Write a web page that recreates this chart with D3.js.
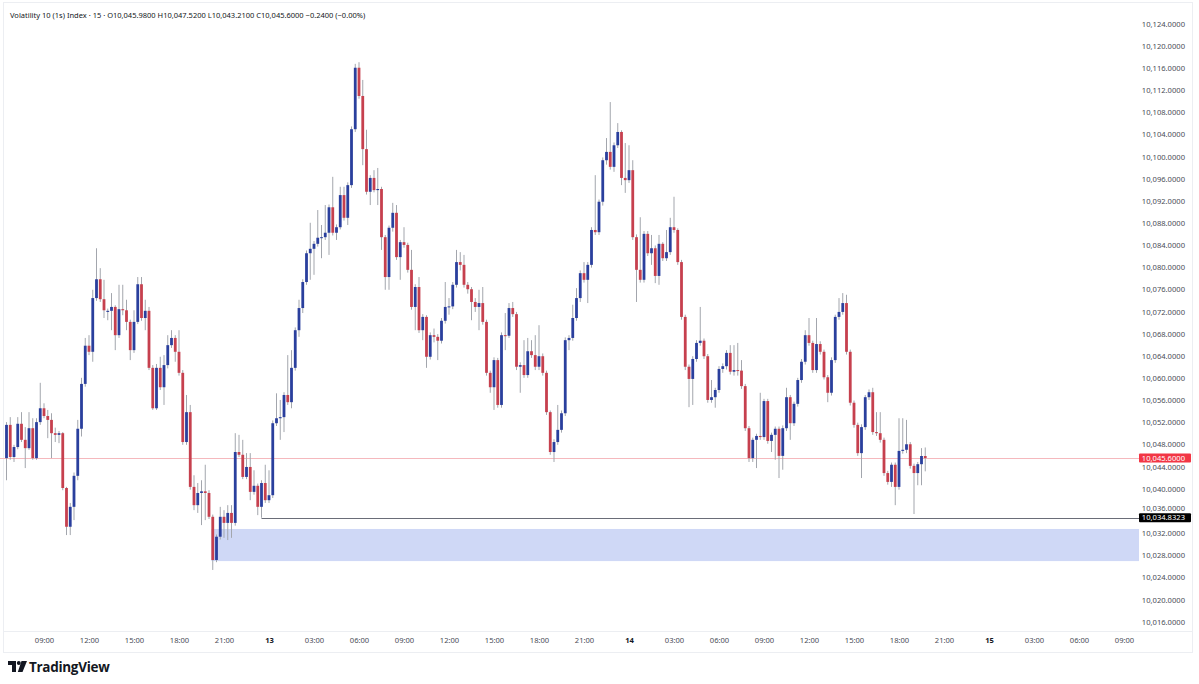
<!DOCTYPE html>
<html><head><meta charset="utf-8">
<script src="https://cdn.jsdelivr.net/npm/d3@7/dist/d3.min.js"></script>
<style>
html,body{margin:0;padding:0;background:#fff;}
svg{display:block;font-family:"Noto Sans","Liberation Sans",sans-serif;}
</style></head>
<body>
<svg id="chart" width="1199" height="684"></svg>
<script>
// ---- DATA (15-minute candles, starting 12th 06:30) ----
const opens = [10045.6,10051.6,10045.8,10047.6,10051.8,10048.9,10047.4,10051.0,10045.6,10052.1,
10054.6,10053.2,10052.5,10050.1,10049.8,10050.1,10040.2,10033.2,10036.8,10042.4,
10050.9,10059.0,10065.9,10064.8,10074.5,10077.9,10074.3,10072.0,10072.2,10072.9,
10067.8,10072.5,10072.3,10070.2,10065.1,10070.2,10077.0,10070.9,10072.2,10061.9,
10054.6,10061.9,10058.4,10062.4,10066.0,10067.3,10064.8,10061.0,10048.5,10053.9,
10040.4,10037.1,10039.3,10039.6,10039.3,10035.0,10027.2,10031.4,10035.0,10033.9,
10035.7,10033.9,10046.7,10046.2,10042.2,10044.0,10039.5,10040.6,10036.8,10041.1,
10038.0,10038.9,10051.9,10052.8,10053.0,10057.0,10055.7,10061.9,10068.7,10072.7,
10077.4,10082.6,10083.4,10084.3,10085.4,10085.5,10086.3,10090.9,10086.3,10087.3,
10093.1,10089.0,10094.9,10105.0,10116.1,10111.0,10101.4,10093.7,10096.2,10094.0,
10094.2,10085.5,10078.3,10087.2,10089.9,10081.9,10084.6,10084.1,10079.6,10072.9,
10076.5,10068.7,10071.1,10063.9,10067.8,10067.5,10066.8,10070.4,10072.9,10073.0,
10076.9,10081.0,10080.5,10076.9,10076.1,10073.8,10072.9,10073.6,10070.2,10061.0,
10058.4,10063.3,10055.2,10067.8,10067.7,10072.7,10071.6,10062.1,10062.4,10060.6,
10064.9,10064.2,10062.1,10064.0,10061.0,10053.9,10046.7,10048.5,10050.7,10053.7,
10066.9,10067.3,10070.9,10074.5,10079.0,10077.8,10080.5,10086.8,10086.4,10091.9,
10099.4,10100.9,10098.2,10102.1,10104.5,10096.2,10095.8,10097.6,10085.5,10079.6,
10077.8,10086.1,10082.6,10083.5,10078.5,10084.3,10081.7,10082.8,10087.3,10086.8,
10081.0,10071.1,10062.1,10059.9,10063.5,10066.4,10066.8,10064.0,10056.1,10056.6,
10057.9,10061.7,10062.2,10064.6,10061.2,10061.5,10061.4,10058.6,10051.0,10045.6,
10048.9,10049.6,10049.4,10055.9,10048.7,10049.8,10050.9,10046.0,10051.0,10056.6,
10051.9,10055.4,10059.7,10063.0,10067.8,10066.4,10061.5,10066.2,10064.8,10060.2,
10057.4,10063.3,10071.1,10072.0,10073.6,10064.8,10055.6,10051.6,10046.5,10051.2,
10056.6,10057.5,10050.3,10050.1,10048.9,10042.9,10041.3,10044.4,10040.4,10046.9,
10047.1,10048.1,10044.2,10042.9,10044.5,10045.98];
const highs = [10052.1,10053.0,10048.0,10053.0,10053.9,10051.2,10053.9,10052.8,10052.8,10059.2,
10055.5,10054.3,10053.7,10051.1,10050.5,10050.3,10040.4,10037.5,10043.0,10052.5,
10060.1,10067.3,10067.8,10076.0,10083.5,10079.9,10077.8,10072.6,10075.4,10073.2,
10076.9,10076.9,10074.2,10070.6,10072.3,10078.3,10078.3,10074.2,10072.9,10062.4,
10062.6,10063.9,10064.2,10067.8,10068.7,10067.8,10068.7,10061.5,10057.0,10055.2,
10042.5,10041.1,10041.6,10044.4,10039.8,10035.4,10031.8,10036.8,10036.2,10037.1,
10037.1,10050.1,10049.8,10048.9,10046.5,10046.5,10043.4,10041.0,10041.6,10044.4,
10043.4,10052.4,10057.3,10056.1,10057.5,10064.2,10065.1,10069.2,10074.2,10077.9,
10083.1,10088.1,10084.8,10090.4,10087.7,10091.3,10091.4,10096.4,10087.8,10094.6,
10094.6,10095.4,10105.5,10116.8,10117.1,10113.9,10104.9,10096.7,10097.6,10098.0,
10094.6,10085.9,10087.6,10091.7,10091.3,10085.0,10087.3,10084.5,10083.2,10077.0,
10078.3,10071.6,10071.4,10068.3,10069.0,10068.0,10070.9,10077.4,10074.5,10077.4,
10083.2,10082.8,10082.3,10077.4,10076.5,10074.5,10076.0,10076.5,10070.6,10061.4,
10063.8,10063.7,10068.3,10071.8,10073.6,10073.8,10072.0,10062.9,10066.9,10067.3,
10066.9,10067.8,10069.6,10064.5,10061.4,10054.2,10049.0,10055.2,10054.2,10067.4,
10067.8,10073.3,10076.3,10079.5,10081.0,10081.0,10087.3,10096.7,10092.3,10099.9,
10103.4,10109.9,10102.6,10106.1,10104.8,10102.5,10102.1,10099.4,10086.0,10089.1,
10086.6,10086.6,10085.9,10084.0,10085.9,10084.6,10086.8,10089.0,10092.8,10087.1,
10081.4,10071.5,10062.5,10064.0,10066.9,10072.9,10067.2,10064.4,10059.7,10058.3,
10062.2,10062.7,10065.1,10066.0,10066.0,10066.4,10063.3,10059.0,10051.4,10049.3,
10050.0,10057.4,10056.3,10056.3,10050.2,10051.3,10051.3,10051.5,10058.3,10057.0,
10055.8,10060.1,10063.5,10068.7,10070.9,10066.8,10070.9,10066.7,10065.2,10060.6,
10063.8,10071.5,10074.5,10075.4,10075.1,10065.2,10056.0,10052.0,10051.7,10057.0,
10058.0,10058.3,10053.9,10053.9,10049.3,10043.3,10044.8,10044.8,10052.8,10052.8,
10052.5,10048.5,10044.6,10044.9,10047.4,10047.52];
const lows = [10041.6,10045.3,10044.9,10047.2,10048.5,10043.8,10047.1,10045.3,10045.3,10051.6,
10052.8,10049.2,10045.6,10048.5,10048.3,10039.8,10031.7,10031.7,10034.4,10041.6,
10049.5,10058.5,10064.2,10063.0,10074.0,10073.8,10070.9,10070.5,10068.7,10065.1,
10067.3,10071.4,10068.7,10063.3,10064.6,10069.8,10070.4,10068.7,10061.5,10054.3,
10054.3,10057.9,10055.2,10061.8,10065.5,10063.0,10060.5,10048.0,10048.0,10039.9,
10036.2,10035.7,10033.5,10034.4,10034.6,10025.4,10026.8,10030.9,10031.2,10030.8,
10031.2,10033.4,10045.8,10041.8,10041.8,10038.0,10039.0,10035.3,10034.8323,10037.5,
10037.5,10038.4,10051.4,10048.9,10050.3,10055.2,10054.6,10061.4,10067.5,10071.8,
10076.9,10077.8,10078.7,10083.8,10081.7,10085.0,10082.3,10085.8,10085.0,10086.9,
10088.5,10087.7,10094.4,10104.5,10110.5,10098.5,10093.2,10091.3,10093.6,10091.3,
10083.2,10076.0,10076.0,10086.5,10081.4,10077.8,10083.6,10079.1,10072.4,10068.7,
10068.2,10066.9,10061.9,10063.4,10066.5,10063.3,10066.3,10069.9,10071.5,10072.5,
10076.4,10079.5,10076.4,10075.3,10070.5,10072.0,10068.7,10069.7,10060.5,10057.4,
10054.3,10054.7,10054.7,10065.1,10067.3,10071.1,10061.5,10057.4,10060.1,10060.1,
10063.7,10061.5,10061.5,10060.5,10053.4,10046.2,10044.9,10048.0,10050.2,10053.2,
10065.1,10066.8,10070.4,10073.8,10077.3,10073.6,10080.0,10085.9,10085.9,10091.2,
10098.6,10097.7,10097.3,10101.6,10094.9,10093.5,10095.3,10085.0,10073.8,10077.3,
10077.3,10082.1,10080.5,10077.2,10076.9,10081.2,10081.2,10082.3,10086.3,10080.5,
10070.6,10061.5,10054.8,10055.2,10063.0,10065.9,10063.5,10055.6,10055.6,10054.7,
10057.4,10061.0,10061.6,10060.7,10060.5,10060.5,10058.1,10050.5,10044.9,10044.9,
10043.8,10048.9,10048.9,10048.2,10046.7,10045.3,10042.0,10043.5,10050.5,10048.9,
10051.4,10054.9,10059.2,10062.5,10065.9,10061.0,10061.0,10064.3,10059.8,10055.7,
10056.9,10062.8,10070.6,10071.5,10064.3,10055.1,10051.1,10046.0,10042.0,10050.7,
10056.1,10049.8,10049.6,10048.4,10042.4,10040.8,10040.4,10037.1,10039.9,10046.4,
10046.5,10043.7,10035.5,10040.7,10040.7,10043.21];
const closes = [10051.6,10045.8,10047.6,10051.8,10048.9,10047.4,10051.0,10045.6,10052.1,10054.6,
10053.2,10052.5,10050.1,10049.8,10050.1,10040.2,10033.2,10036.8,10042.4,10050.9,
10059.0,10065.9,10064.8,10074.5,10077.9,10074.3,10072.3,10072.2,10072.9,10067.8,
10072.5,10072.3,10070.2,10065.1,10070.2,10077.0,10070.9,10072.2,10061.9,10054.6,
10061.9,10058.4,10062.4,10066.0,10067.3,10064.8,10061.0,10048.5,10053.9,10040.4,
10037.1,10039.3,10039.6,10039.3,10035.0,10027.2,10031.4,10035.0,10033.9,10035.7,
10033.9,10046.7,10046.2,10042.2,10044.0,10039.5,10040.6,10036.8,10041.1,10038.0,
10038.9,10051.9,10052.8,10053.0,10057.0,10055.7,10061.9,10068.7,10072.7,10077.4,
10082.6,10083.4,10084.3,10085.4,10085.5,10086.3,10090.9,10086.3,10087.3,10093.1,
10089.0,10094.9,10105.0,10116.1,10111.0,10101.4,10093.7,10096.2,10094.0,10094.2,
10085.5,10078.3,10087.2,10089.9,10081.9,10084.6,10084.1,10079.6,10072.9,10076.5,
10068.7,10071.1,10063.9,10067.8,10067.5,10066.8,10070.4,10072.9,10073.0,10076.9,
10081.0,10080.5,10076.9,10076.1,10073.8,10072.9,10073.6,10070.2,10061.0,10058.4,
10063.3,10055.2,10067.8,10067.7,10072.7,10071.6,10062.1,10062.4,10060.6,10064.9,
10064.2,10062.1,10064.0,10061.0,10053.9,10046.7,10048.5,10050.7,10053.7,10066.9,
10067.3,10070.9,10074.5,10079.0,10077.8,10080.5,10086.8,10086.4,10091.9,10099.4,
10100.9,10098.2,10102.1,10104.5,10096.2,10095.8,10097.6,10085.5,10079.6,10077.8,
10086.1,10082.6,10083.5,10078.5,10084.3,10081.7,10082.8,10087.3,10086.8,10081.0,
10071.1,10062.1,10059.9,10063.5,10066.4,10066.8,10064.0,10056.1,10056.6,10057.9,
10061.7,10062.2,10064.6,10061.2,10061.5,10061.4,10058.6,10051.0,10045.6,10048.9,
10049.6,10049.4,10055.9,10048.7,10049.8,10050.9,10046.0,10051.0,10056.6,10051.9,
10055.4,10059.7,10063.0,10067.8,10066.4,10061.5,10066.2,10064.8,10060.2,10057.4,
10063.3,10071.1,10072.0,10073.6,10064.8,10055.6,10051.6,10046.5,10051.2,10056.6,
10057.5,10050.3,10050.1,10048.9,10042.9,10041.3,10044.4,10040.4,10046.9,10047.1,
10048.1,10044.2,10042.9,10044.5,10045.98,10045.60];

const priceTicks = d3.range(10016, 10125, 4);
const lastPrice = 10045.60;
const lineLevel = 10034.8323;
const zoneTop = 10032.8, zoneBottom = 10027.0;
const lineStartIndex = 68, zoneStartIndex = 55;
const header = {symbol:"Volatility 10 (1s) Index · 15 · ", o:"10,045.9800", h:"10,047.5200", l:"10,043.2100", c:"10,045.6000", chg:"−0.2400 (−0.00%)"};

// categories: candle open times
const start = new Date(2025, 2, 12, 6, 30);
const times = opens.map((_, i) => new Date(start.getTime() + i * 15 * 60000));
const candles = times.map((t, i) => ({t, o: opens[i], h: highs[i], l: lows[i], c: closes[i]}));

// ---- LAYOUT ----
const svg = d3.select("#chart");
const W = 1199, H = 684, plotRight = 1139, plotBottom = 631;
const x = d3.scaleTime()
  .domain([new Date(2025, 2, 12, 6, 0), new Date(2025, 2, 15, 12, 0)])
  .range([-1, -1 + 78 * 15]);
const y = d3.scaleLinear().domain([10016, 10124]).range([622, 24]);

svg.append("rect").attr("width", W).attr("height", H).attr("fill", "#fff");
// frame
svg.append("rect").attr("x", 3.5).attr("y", 2.5).attr("width", 1189).attr("height", 650)
  .attr("fill", "none").attr("stroke", "#eceef2").attr("stroke-width", 1);
svg.append("line").attr("x1", 3.5).attr("x2", 1192.5).attr("y1", plotBottom + 0.5).attr("y2", plotBottom + 0.5)
  .attr("stroke", "#eceef2");

const plot = svg.append("g");
const bw = 2.8;

// zone
plot.append("rect")
  .attr("x", x(times[zoneStartIndex]) - bw / 2)
  .attr("y", y(zoneTop))
  .attr("width", plotRight - (x(times[zoneStartIndex]) - bw / 2))
  .attr("height", y(zoneBottom) - y(zoneTop))
  .attr("fill", "#cfd8f6");

// last price line
plot.append("line").attr("x1", 0).attr("x2", plotRight)
  .attr("y1", Math.round(y(lastPrice)) + 0.5).attr("y2", Math.round(y(lastPrice)) + 0.5)
  .attr("stroke", "#f5b8bd").attr("stroke-width", 1);

// horizontal level line
plot.append("line").attr("x1", x(times[lineStartIndex])).attr("x2", plotRight)
  .attr("y1", Math.round(y(lineLevel)) + 0.5).attr("y2", Math.round(y(lineLevel)) + 0.5)
  .attr("stroke", "#6a6d78").attr("stroke-width", 1);

// candles
const cg = plot.append("g");
cg.selectAll("line.wick").data(candles).join("line").attr("class", "wick")
  .attr("x1", d => x(d.t)).attr("x2", d => x(d.t))
  .attr("y1", d => y(d.h)).attr("y2", d => y(d.l))
  .attr("stroke", "#a3a6ad").attr("stroke-width", 1);
cg.selectAll("rect.body").data(candles).join("rect").attr("class", "body")
  .attr("x", d => x(d.t) - bw / 2)
  .attr("width", bw)
  .attr("y", d => y(Math.max(d.o, d.c)))
  .attr("height", d => Math.max(1, Math.abs(y(d.o) - y(d.c))))
  .attr("fill", d => d.c >= d.o ? "#2a3f9d" : "#c6404e");

// price axis
const fmt = d3.format(",.4f");
const tagged = [lastPrice, lineLevel];
const pa = svg.append("g");
pa.selectAll("text").data(priceTicks).join("text")
  .attr("x", 1185)
  .attr("y", d => {
    // nudge a tick label that sits just above a price tag so both stay readable
    const near = tagged.find(v => y(d) < y(v) && y(v) - y(d) < 9);
    return near !== undefined ? y(near) - 9.5 : y(d);
  })
  .attr("dy", "0.35em")
  .attr("text-anchor", "end").attr("font-size", 7.6).attr("fill", "#4a4d57")
  .text(d => fmt(d));

function priceTag(v, fill) {
  const g = svg.append("g");
  const yy = y(v);
  g.append("rect").attr("x", plotRight).attr("y", yy - 4.5).attr("width", 52).attr("height", 9)
    .attr("rx", 1).attr("fill", fill);
  g.append("text").attr("x", 1185).attr("y", yy).attr("dy", "0.35em")
    .attr("text-anchor", "end").attr("font-size", 7.6).attr("fill", "#fff").text(fmt(v));
}
priceTag(lastPrice, "#f23645");
priceTag(lineLevel, "#000000");

// time axis
const tickTimes = d3.range(0, 25).map(k => new Date(2025, 2, 12, 9 + 3 * k, 0));
const xAxis = d3.axisBottom(x).tickValues(tickTimes).tickSize(0).tickPadding(0)
  .tickFormat(d => d.getHours() === 0 ? String(d.getDate()) : d3.timeFormat("%H:%M")(d));
const xa = svg.append("g").attr("transform", `translate(0,${plotBottom + 7})`).call(xAxis);
xa.select(".domain").remove();
xa.selectAll("text").attr("font-size", 7.6).attr("font-family", "'Noto Sans','Liberation Sans',sans-serif")
  .attr("fill", d => d.getHours() === 0 ? "#131722" : "#4a4d57")
  .attr("font-weight", d => d.getHours() === 0 ? "bold" : "normal");

// header
const ht = svg.append("text").attr("x", 10).attr("y", 18).attr("font-size", 7.5).attr("fill", "#131722")
  .attr("xml:space", "preserve").style("white-space", "pre");
ht.append("tspan").text(header.symbol);
[["O", header.o], ["H", header.h], ["L", header.l], ["C", header.c]].forEach(([k, v], i) => {
  ht.append("tspan").text((i === 0 ? "" : " ") + k);
  ht.append("tspan").text(v);
});
ht.append("tspan").text(" " + header.chg);

// TradingView logo
const logo = svg.append("g").attr("transform", "translate(8,661)").attr("fill", "#131722");
logo.append("path").attr("d", "M0,0 H8 V11 H4 V4 H0 Z");
logo.append("circle").attr("cx", 10.8).attr("cy", 2).attr("r", 2);
logo.append("path").attr("d", "M13.5,0 H19 L14.5,11 H9.8 Z");
svg.append("text").attr("x", 29).attr("y", 671.5).attr("font-size", 13.5).attr("font-weight", "bold")
  .attr("fill", "#131722").attr("font-family", "'Open Sans','Noto Sans',sans-serif").attr("letter-spacing", -0.3)
  .text("TradingView");
</script>
</body></html>
